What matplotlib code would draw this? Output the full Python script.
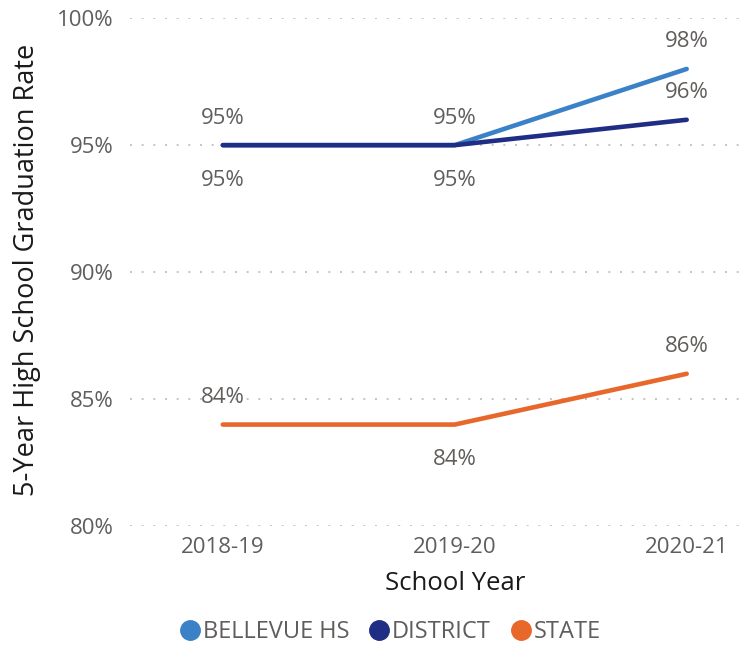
import matplotlib
matplotlib.use("Agg")
import matplotlib.pyplot as plt
from matplotlib.lines import Line2D

years = ["2018-19", "2019-20", "2020-21"]
bellevue = [95, 95, 98]
district = [95, 95, 96]
state = [84, 84, 86]
yticks = [80, 85, 90, 95, 100]

c_bel = "#3B81C8"
c_dis = "#1F2D84"
c_sta = "#E8672A"
gray = "#605E5C"

plt.rcParams['font.family'] = ['Open Sans', 'DejaVu Sans']

fig = plt.figure(figsize=(7.43, 6.48), dpi=100)
ax = fig.add_axes([0.175, 0.188, 0.821, 0.784])

x = list(range(len(years)))
ax.plot(x, bellevue, color=c_bel, lw=3.3, solid_capstyle='round', zorder=3)
ax.plot(x, district, color=c_dis, lw=3.3, solid_capstyle='round', zorder=4)
ax.plot(x, state, color=c_sta, lw=3.3, solid_capstyle='round', zorder=3)

fs_lab = 16
UP, DOWN = 27, -35

def lab(i, v, off):
    ax.annotate(f"{v}%", (i, v), xytext=(0, off), textcoords='offset pixels',
                ha='center', va='center', fontsize=fs_lab, color=gray)

for i, v in enumerate(bellevue):
    lab(i, v, UP)
for i, v in enumerate(district):
    lab(i, v, DOWN if i < 2 else UP)
for i, v in enumerate(state):
    lab(i, v, DOWN if i == 1 else UP)

ax.set_xlim(-0.4, 2.23)
ax.set_ylim(80, 100)
ax.set_yticks(yticks)
ax.set_yticklabels([f"{t}%" for t in yticks])
ax.set_xticks(x)
ax.set_xticklabels(years)
ax.tick_params(axis='both', length=0, labelsize=16, labelcolor=gray)
ax.tick_params(axis='y', pad=12)
ax.tick_params(axis='x', pad=8)
for s in ax.spines.values():
    s.set_visible(False)
ax.grid(axis='y', color='#C4C4C4', linestyle=(0, (1, 5)), linewidth=1.4)
ax.set_axisbelow(True)

ax.set_xlabel("School Year", fontsize=18.5, color='#1A1A1A')
ax.set_ylabel("5-Year High School Graduation Rate", fontsize=19.5, color='#1A1A1A')
ax.xaxis.set_label_coords((455 - 130) / 610, (526 - 583) / 508)
ax.xaxis.label.set_va('center')
ax.yaxis.set_label_coords((27 - 130) / 610, (526 - 270) / 508)
ax.yaxis.label.set_va('center')

handles = [Line2D([], [], marker='o', linestyle='none', markersize=14, color=c)
           for c in (c_bel, c_dis, c_sta)]
fig.legend(handles, ["BELLEVUE HS", "DISTRICT", "STATE"], loc='center',
           bbox_to_anchor=(389/743, 1 - 632/648), ncol=3, frameon=False,
           fontsize=17, labelcolor=gray, handletextpad=0.0, columnspacing=0.7,
           handlelength=1.1)

fig.savefig("out.png", dpi=100)
